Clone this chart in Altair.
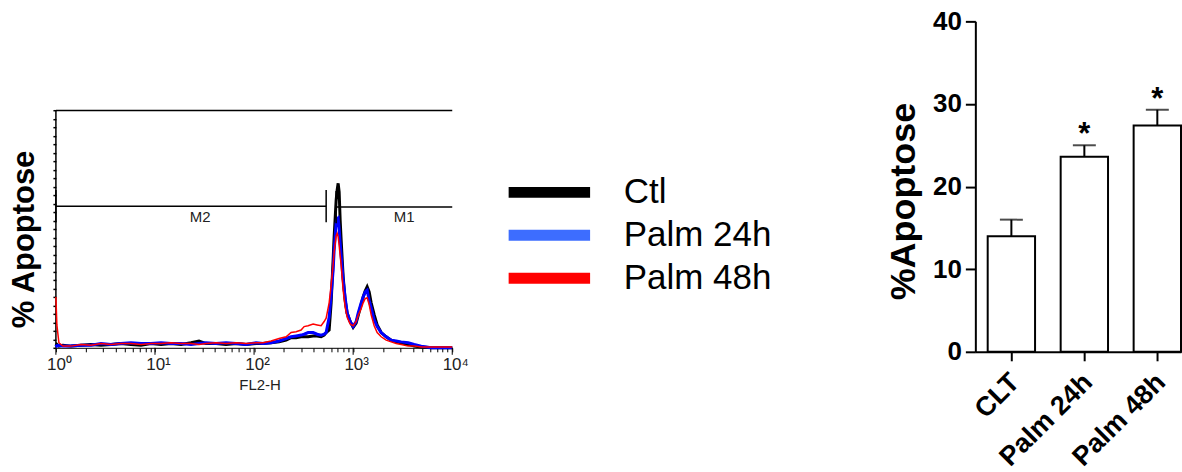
import altair as alt
import pandas as pd

# ---------------- Flow-cytometry histogram (FL2-H, log scale) ----------------
fl2_values = [1.0, 1.023, 1.072, 1.177, 1.418, 1.789, 2.257, 2.848, 3.594, 4.535, 5.722, 7.221, 9.112,
              11.50, 14.51, 18.31, 23.10, 27.82, 32.74, 41.32, 52.14, 65.79, 83.02, 104.8, 123.3, 148.5, 178.9,
              210.5, 236.4, 265.6, 298.3, 320.0, 351.2, 394.5, 433.0, 475.2, 509.5, 533.8, 572.4, 599.5, 628.1,
              642.9, 673.4, 689.2, 705.5, 722.1, 739.0, 756.5, 792.5, 830.2, 869.7, 932.6, 1000,
              1072, 1123, 1204, 1262, 1322, 1385, 1451, 1520, 1630, 1747, 1918, 2154, 2420, 2719, 3053,
              3594, 4132, 4863, 6137, 7743, 10000]

ctl_counts = [2, 4, 2, 3, 2, 3, 4, 3, 4, 5, 4, 3, 5,
              4, 5, 4, 6, 8, 5, 5, 4, 5, 4, 5, 5, 6, 7,
              9, 12, 12, 13, 13, 13, 14, 14, 13, 15, 18, 21, 53, 104, 131, 174, 186, 194, 184, 151, 127,
              84, 56, 41, 31, 24,
              29, 38, 51, 60, 67, 72, 66, 53, 39, 27, 18, 13, 9, 7, 6, 4, 2, 1, 0, 0, 0]

palm24_counts = [4, 2, 3, 2, 2, 3, 3, 5, 4, 5, 6, 5, 5,
                 6, 5, 5, 4, 5, 6, 5, 6, 5, 4, 6, 5, 6, 8,
                 11, 13, 14, 15, 16, 18, 18, 16, 15, 16, 18, 36, 62, 92, 115, 147, 152, 153, 141, 124, 109,
                 80, 59, 41, 31, 25,
                 31, 41, 53, 60, 66, 68, 56, 47, 33, 25, 18, 13, 9, 8, 7, 6, 4, 2, 0, 0, 0]

palm48_counts = [60, 27, 6, 2, 2, 4, 3, 5, 4, 5, 5, 4, 5,
                 5, 6, 5, 5, 4, 5, 6, 5, 6, 5, 6, 6, 8, 11,
                 13, 18, 19, 21, 25, 26, 28, 27, 26, 31, 35, 53, 74, 98, 113, 132, 135, 131, 121, 109, 98,
                 68, 48, 36, 28, 26,
                 31, 38, 46, 53, 58, 59, 51, 39, 26, 18, 13, 9, 7, 5, 4, 2, 2, 1, 1, 1, 1]

series_names = ["Ctl", "Palm 24h", "Palm 48h"]
trace_colors = ["#000000", "#0000ff", "#ff0000"]
trace_widths = [3, 3, 1.5]
legend_colors = ["#000000", "#3d6dff", "#ff0000"]

# histogram frame / markers
frame_top = 280
y_ticks = list(range(0, 290, 10))
marker_names = ["M2", "M1"]
marker_start = [1, 673]
marker_end = [534, 10000]
marker_level = [167, 166]
marker_label_x = [28.5, 3275]
marker_label_y = [154, 154]
marker_tick_x = [1, 534, 673]
marker_tick_level = [167, 167, 166]
marker_tick_half = 19

decade_values = [1, 10, 100, 1000, 10000]
decade_labels = ["10⁰", "10¹", "10²", "10³", "10⁴"]
minor_values = [2, 3, 4, 5, 6, 7, 8, 9, 20, 30, 40, 50, 60, 70, 80, 90,
                200, 300, 400, 500, 600, 700, 800, 900, 2000, 3000, 4000, 5000, 6000, 7000, 8000, 9000]

# ---------------- Bar chart ----------------
categories = ["CLT", "Palm 24h", "Palm 48h"]
means = [14.0, 23.6, 27.4]
errors = [2.0, 1.4, 1.9]
signif = ["", "*", "*"]

FONT = "Liberation Sans"
W_LEFT, H_LEFT = 397, 327
W_RIGHT, H_RIGHT = 206, 331

# ---------------- build tables ----------------
rows = []
for name, counts in zip(series_names, [ctl_counts, palm24_counts, palm48_counts]):
    for xv, c in zip(fl2_values, counts):
        rows.append({"series": name, "fl2": xv, "count": c})
hist_df = pd.DataFrame(rows)

markers_df = pd.DataFrame({"name": marker_names, "start": marker_start, "end": marker_end,
                           "level": marker_level, "lx": marker_label_x, "ly": marker_label_y})
mticks_df = pd.DataFrame({"x": marker_tick_x,
                          "lo": [v - marker_tick_half for v in marker_tick_level],
                          "hi": [v + marker_tick_half for v in marker_tick_level]})
frame_df = pd.DataFrame({"x0": [decade_values[0]], "x1": [decade_values[-1]], "y0": [0], "y1": [frame_top]})
decade_df = pd.DataFrame({"v": decade_values})
legend_df = pd.DataFrame({"series": series_names, "fl2": [1, 1, 1], "count": [0, 0, 0]})

label_expr = "".join(f"datum.value == {v} ? '{l}' : " for v, l in zip(decade_values, decade_labels)) + "''"

xscale = alt.Scale(type="log", domain=[1, 10000], nice=False)
yscale = alt.Scale(domain=[0, 385], nice=False, zero=True)
xaxis = alt.Axis(values=sorted(decade_values + minor_values), labelExpr=label_expr, tickSize=4,
                 tickColor="black", domainColor="black", tickWidth=1, labelFont=FONT, labelFontSize=17,
                 labelColor="#222222", labelPadding=5, labelOverlap=False, labelFlush=False, grid=False,
                 labelOffset=3,
                 title="FL2-H", titleFont=FONT, titleFontSize=15, titleFontWeight="normal",
                 titleColor="#222222", titleX=204, titleY=37, titleBaseline="middle")
yaxis = alt.Axis(values=y_ticks, labels=False, tickSize=3, tickColor="black", tickWidth=1.5, domain=False,
                 grid=False, title="% Apoptose", titleFont=FONT, titleFontSize=31, titleFontWeight="bold",
                 titleColor="black", titlePadding=12, titleY=218)


def X(field):
    return alt.X(field, type="quantitative", scale=xscale, axis=xaxis)


def Y(field):
    return alt.Y(field, type="quantitative", scale=yscale, axis=yaxis)


trace_layers = [
    alt.Chart(hist_df).transform_filter(alt.datum.series == name)
    .mark_line(color=col, strokeWidth=w, interpolate="linear")
    .encode(x=X("fl2"), y=Y("count"))
    for name, col, w in zip(series_names, trace_colors, trace_widths)
]

frame_top_rule = alt.Chart(frame_df).mark_rule(color="black", strokeWidth=1.5).encode(
    x=X("x0"), x2="x1", y=Y("y1"))
frame_left_rule = alt.Chart(frame_df).mark_rule(color="black", strokeWidth=1.5).encode(
    x=X("x0"), y=Y("y0"), y2="y1")
marker_lines = alt.Chart(markers_df).mark_rule(color="black", strokeWidth=1.5).encode(
    x=X("start"), x2="end", y=Y("level"))
marker_ticks = alt.Chart(mticks_df).mark_rule(color="black", strokeWidth=1.5).encode(
    x=X("x"), y=Y("lo"), y2="hi")
marker_labels = alt.Chart(markers_df).mark_text(font=FONT, fontSize=15, color="#222222",
                                                baseline="middle").encode(
    x=X("lx"), y=Y("ly"), text="name:N")
major_ticks = alt.Chart(decade_df).mark_rule(color="black", strokeWidth=1).encode(
    x=X("v"), y=alt.value(H_LEFT), y2=alt.value(H_LEFT + 7))
legend_layer = alt.Chart(legend_df).mark_line().encode(
    x=X("fl2"), y=Y("count"),
    color=alt.Color("series:N", sort=series_names,
                    scale=alt.Scale(domain=series_names, range=legend_colors),
                    legend=alt.Legend(orient="none", legendX=476.8, legendY=153.8, title=None,
                                      symbolType="M-3.4,0H3.4", symbolSize=576, symbolStrokeWidth=11,
                                      labelFont=FONT, labelFontSize=35, labelColor="black",
                                      labelOffset=57, rowPadding=-2, padding=0, labelLimit=400)))

left = alt.layer(frame_top_rule, frame_left_rule, *trace_layers, marker_lines, marker_ticks,
                 marker_labels, major_ticks, legend_layer).properties(width=W_LEFT, height=H_LEFT)

# ---------------- bar chart ----------------
bar_df = pd.DataFrame({"group": categories, "mean": means,
                       "upper": [m + e for m, e in zip(means, errors)], "sig": signif})

bx = alt.X("group:N", sort=categories,
           scale=alt.Scale(paddingInner=0.351, paddingOuter=0.0846, align=1),
           axis=alt.Axis(labelAngle=-45, labelAlign="right", labelBaseline="middle", labelFont=FONT,
                         labelFontSize=27, labelFontWeight="bold", labelColor="black", labelPadding=17,
                         labelOffset=4,
                         tickSize=9, tickWidth=2, tickColor="black", domainWidth=2, domainColor="black",
                         grid=False, title=None))
by_axis = alt.Axis(values=[0, 10, 20, 30, 40], tickSize=10, tickWidth=2, tickColor="black", domainWidth=2,
                   domainColor="black", labelFont=FONT, labelFontSize=26, labelFontWeight="bold",
                   labelColor="black", labelPadding=4, grid=False, title="%Apoptose", titleFont=FONT,
                   titleFontSize=36, titleFontWeight="bold", titleColor="black", titlePadding=10, titleY=180)
byscale = alt.Scale(domain=[0, 40], nice=False)

bars = alt.Chart(bar_df).mark_bar(fill="white", stroke="black", strokeWidth=2).encode(
    x=bx, y=alt.Y("mean:Q", scale=byscale, axis=by_axis))
err = alt.Chart(bar_df).mark_rule(color="black", strokeWidth=2).encode(
    x=bx, y=alt.Y("mean:Q", scale=byscale, axis=by_axis), y2="upper")
caps = alt.Chart(bar_df).mark_tick(color="black", size=23, thickness=2).encode(
    x=bx, y=alt.Y("upper:Q", scale=byscale, axis=by_axis))
stars = alt.Chart(bar_df).mark_text(font=FONT, fontSize=31, fontWeight="bold", color="black",
                                    baseline="alphabetic", dy=-1).encode(
    x=bx, y=alt.Y("upper:Q", scale=byscale, axis=by_axis), text="sig:N")

right = alt.layer(err, bars, caps, stars).properties(width=W_RIGHT, height=H_RIGHT)

chart = alt.hconcat(left, right, spacing=524, bounds="flush").properties(
    padding={"left": 8, "top": 8, "right": 0, "bottom": 0}, background="white"
).configure_view(stroke=None)

chart.save("out.html", embed_options={"renderer": "svg", "actions": False})
